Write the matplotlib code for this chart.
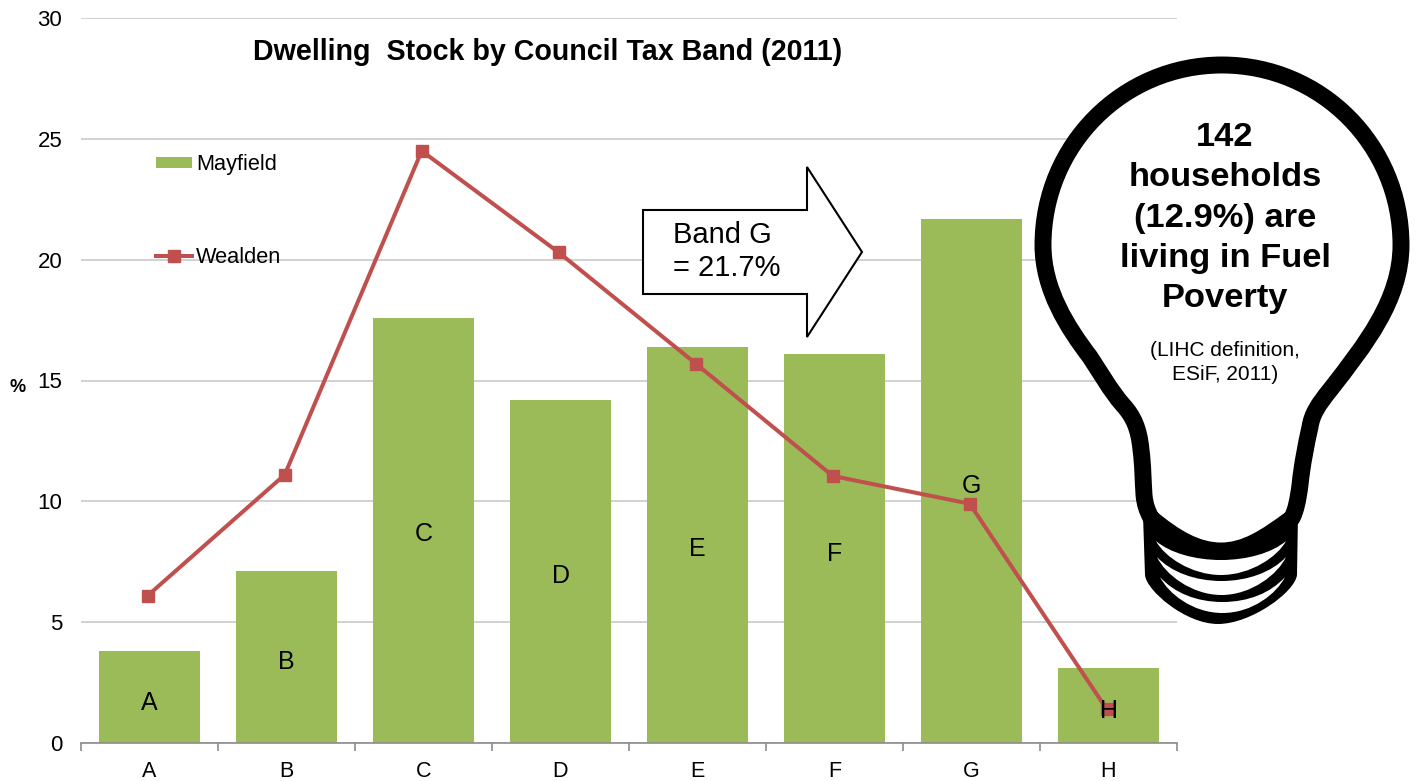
import matplotlib
matplotlib.use('Agg')
import matplotlib.pyplot as plt
from matplotlib.path import Path
from matplotlib.patches import PathPatch, Polygon

plt.rcParams['font.family'] = ['Liberation Sans', 'DejaVu Sans']

bands = ['A', 'B', 'C', 'D', 'E', 'F', 'G', 'H']
mayfield = [3.8, 7.1, 17.6, 14.2, 16.4, 16.1, 21.7, 3.1]
wealden = [6.1, 11.1, 24.5, 20.3, 15.7, 11.05, 9.9, 1.4]
label_y = [1.67, 3.37, 8.65, 6.93, 8.03, 7.83, 10.63, 1.33]
y_ticks = [0, 5, 10, 15, 20, 25, 30]

green = '#9bbb59'
red = '#c0504d'

W, H = 1418, 781
fig = plt.figure(figsize=(W / 100, H / 100), dpi=100)
ax = fig.add_axes([81 / W, (H - 743) / H, 1096 / W, 725 / H])

x = list(range(len(bands)))
b = ax.bar(x, mayfield, width=0.74, color=green, label='Mayfield', zorder=2)
# the line markers sit a touch left of the bar centres
l, = ax.plot([i - 0.013 for i in x], wealden, color=red, lw=2.9, marker='s', ms=9.2,
             label='Wealden', zorder=3)

for i in x:
    ax.text(i, label_y[i], bands[i], ha='center', va='center', fontsize=18, color='black', zorder=4)

ax.set_xlim(-0.5, 7.5)
ax.set_ylim(0, 30)
ax.set_yticks(y_ticks)
ax.set_xticks([i - 0.5 for i in range(len(bands) + 1)])
ax.set_xticklabels([])
ax.set_xticks(x, labels=bands, minor=True)
ax.tick_params(axis='x', which='major', length=5.5, width=1.2, color='#8c8c8c')
ax.tick_params(axis='x', which='minor', length=0, labelsize=15.5, pad=13)
ax.tick_params(axis='y', length=0, labelsize=16, pad=13.5)
ax.grid(axis='y', color='#c9c9c9', lw=1.2, zorder=0)
ax.set_axisbelow(True)
for s in ['top', 'left', 'right']:
    ax.spines[s].set_visible(False)
ax.spines['bottom'].set_color('#8c8c8c')
ax.spines['bottom'].set_linewidth(1.2)

ax.legend([b, l], ['Mayfield', 'Wealden'], loc='upper left',
          bbox_to_anchor=(75 / 1096, 1 - 136 / 725), frameon=False,
          fontsize=15.7, labelspacing=3.3, handlelength=1.65, handletextpad=0.18,
          handleheight=0.42, borderpad=0, borderaxespad=0)

# overlay in pixel coordinates for title and shapes
ov = fig.add_axes([0, 0, 1, 1], zorder=5)
ov.set_xlim(0, W)
ov.set_ylim(H, 0)
ov.axis('off')
ov.patch.set_alpha(0)

ov.text(548, 52, 'Dwelling  Stock by Council Tax Band (2011)', ha='center', va='center',
        fontsize=20.6, fontweight='bold')
ov.text(18, 387, '%', ha='center', va='center', fontsize=13, fontweight='bold')

# arrow
arrow = [(643, 210), (807, 210), (807, 167), (862, 252), (807, 337), (807, 294), (643, 294)]
ov.add_patch(Polygon(arrow, closed=True, fc='white', ec='black', lw=1.5, joinstyle='miter'))
ov.text(673, 235, 'Band G', ha='left', va='center', fontsize=21)
ov.text(673, 268, '= 21.7%', ha='left', va='center', fontsize=21)

# bulb base
M, L, C4, Z = Path.MOVETO, Path.LINETO, Path.CURVE4, Path.CLOSEPOLY
base = Path([(1143, 515), (1145, 575),
             (1146, 590), (1185, 624), (1218, 624),
             (1251, 624), (1295, 592), (1297, 575),
             (1298, 515), (1143, 515)],
            [M, L, C4, C4, C4, C4, C4, C4, L, Z])
ov.add_patch(PathPatch(base, fc='black', ec='none'))

# white gaps between the screw threads
threads = [(1156, 1286, 541, 560, 575), (1157, 1286, 557, 581, 595), (1160, 1285, 577, 602, 613)]
for x0, x1, y0, y_top, y_bot in threads:
    xm = (x0 + x1) / 2
    p = Path([(x0, y0),
              (x0 + 14, y0 + 0.63 * (y_top - y0)), (xm - 26, y_top), (xm, y_top),
              (xm + 26, y_top), (x1 - 14, y0 + 0.63 * (y_top - y0)), (x1, y0),
              (x1 - 8, y0 + 0.45 * (y_bot - y0)), (xm + 30, y_bot), (xm, y_bot),
              (xm - 30, y_bot), (x0 + 8, y0 + 0.45 * (y_bot - y0)), (x0, y0),
              (x0, y0)],
             [M] + [C4] * 12 + [Z])
    ov.add_patch(PathPatch(p, fc='white', ec='none'))

# bulb glass, traced as centre line of the black outline
glass_pts = [(1222, 65),
             (1321, 65), (1401, 145), (1401, 245),
             (1401, 300), (1365, 345), (1330, 390),
             (1318, 405), (1312, 414), (1310, 427),
             (1306, 445), (1302, 465), (1300, 485),
             (1298, 500), (1296, 510), (1292, 518),
             (1265, 538), (1245, 551), (1221, 551),
             (1197, 551), (1175, 538), (1151, 518),
             (1147, 510), (1145, 505), (1144, 495),
             (1143, 480), (1143, 465), (1141, 450),
             (1139, 428), (1133, 416), (1123, 405),
             (1110, 390), (1100, 372), (1090, 357),
             (1068, 328), (1043, 290), (1043, 245),
             (1043, 145), (1123, 65), (1222, 65),
             (1222, 65)]
glass = Path(glass_pts, [M] + [C4] * (len(glass_pts) - 2) + [Z])
ov.add_patch(PathPatch(glass, fc='white', ec='black', lw=12.2, joinstyle='round'))

bulb_lines = ['142', 'households', '(12.9%) are', 'living in Fuel', 'Poverty']
for i, s in enumerate(bulb_lines):
    ov.text(1225, 138 + i * 40, s, ha='center', va='center', fontsize=24.8, fontweight='bold')
ov.text(1225, 351, '(LIHC definition,', ha='center', va='center', fontsize=15)
ov.text(1225, 375, 'ESiF, 2011)', ha='center', va='center', fontsize=15)

plt.savefig('out.png', dpi=100)
